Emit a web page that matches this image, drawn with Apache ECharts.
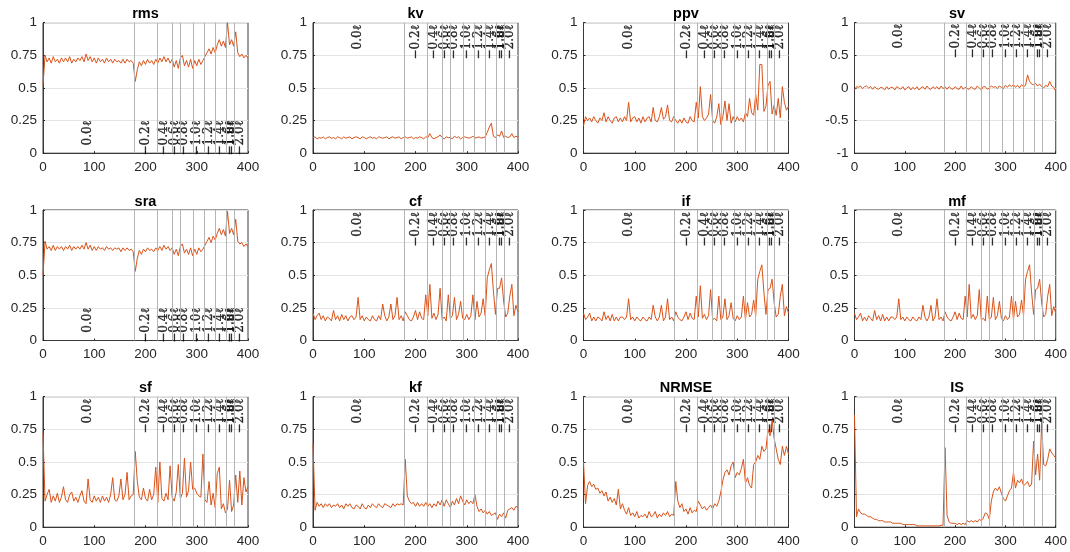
<!DOCTYPE html>
<html>
<head>
<meta charset="utf-8">
<script src="https://cdn.jsdelivr.net/npm/echarts@6/dist/echarts.min.js"></script>
<style>
  html, body { margin: 0; padding: 0; background: #fff; }
  #chart { width: 1070px; height: 552px; }
</style>
</head>
<body>
<div id="chart"></div>
<script>
// sample spacing along the x axis (one value every 4 units, 0..400)
const xStep = 4

const rms = [0.52,0.75,0.70,0.73,0.69,0.74,0.70,0.72,0.69,0.73,
  0.70,0.73,0.70,0.74,0.69,0.72,0.70,0.73,0.71,0.74,
  0.70,0.76,0.71,0.74,0.70,0.73,0.69,0.73,0.70,0.72,
  0.69,0.73,0.70,0.72,0.69,0.72,0.70,0.71,0.69,0.72,
  0.69,0.72,0.70,0.71,0.69,0.55,0.64,0.70,0.67,0.71,
  0.68,0.72,0.69,0.71,0.68,0.72,0.69,0.73,0.70,0.74,
  0.70,0.73,0.69,0.72,0.66,0.71,0.65,0.73,0.75,0.67,
  0.71,0.66,0.72,0.65,0.71,0.67,0.72,0.68,0.71,0.74,
  0.77,0.80,0.76,0.81,0.77,0.83,0.87,0.82,0.86,0.81,
  1.00,0.83,0.87,0.82,0.93,0.77,0.74,0.76,0.73,0.75,
  0.73]

const kv = [0.12,0.125,0.11,0.12,0.115,0.125,0.11,0.12,0.125,0.115,
  0.12,0.11,0.125,0.12,0.11,0.125,0.115,0.12,0.125,0.11,
  0.12,0.125,0.12,0.11,0.125,0.12,0.11,0.12,0.125,0.115,
  0.12,0.11,0.125,0.12,0.115,0.12,0.125,0.11,0.12,0.125,
  0.115,0.12,0.125,0.11,0.12,0.125,0.115,0.12,0.125,0.11,
  0.12,0.115,0.125,0.12,0.11,0.125,0.12,0.15,0.12,0.11,
  0.12,0.125,0.14,0.12,0.11,0.125,0.12,0.12,0.11,0.13,
  0.12,0.125,0.11,0.12,0.125,0.12,0.115,0.12,0.13,0.115,
  0.12,0.125,0.115,0.12,0.125,0.16,0.20,0.23,0.13,0.12,
  0.14,0.13,0.17,0.12,0.13,0.12,0.125,0.15,0.12,0.13,
  0.125]

const ppv = [0.21,0.28,0.25,0.27,0.24,0.28,0.25,0.23,0.27,0.25,
  0.31,0.24,0.28,0.25,0.23,0.27,0.28,0.24,0.27,0.24,
  0.28,0.25,0.39,0.24,0.27,0.28,0.24,0.27,0.23,0.28,
  0.24,0.27,0.28,0.24,0.35,0.25,0.24,0.28,0.35,0.26,
  0.28,0.37,0.25,0.24,0.28,0.25,0.23,0.26,0.23,0.27,
  0.24,0.23,0.28,0.25,0.24,0.39,0.27,0.51,0.28,0.25,
  0.27,0.30,0.45,0.25,0.23,0.28,0.38,0.22,0.28,0.40,
  0.25,0.38,0.23,0.28,0.24,0.28,0.25,0.27,0.24,0.31,
  0.28,0.42,0.31,0.29,0.45,0.33,0.68,0.68,0.32,0.36,
  0.52,0.55,0.30,0.37,0.29,0.42,0.27,0.51,0.39,0.33,
  0.36]

const sv = [-0.03,0.02,0.01,0.03,-0.01,0.02,0.03,0,0.02,-0.02,
  0.02,-0.01,-0.02,0.01,0,-0.03,0.02,-0.02,0.01,0.01,
  -0.03,0.02,0,-0.02,0.02,-0.03,0,0.02,-0.03,0.01,
  -0.02,0.02,-0.03,0,0.02,-0.02,0.03,-0.01,-0.02,0.02,
  -0.01,0.02,-0.02,0.03,-0.01,0.02,-0.02,0.02,-0.01,-0.02,
  0.02,-0.01,-0.02,0.03,-0.02,0.01,-0.01,-0.02,0.02,-0.01,
  -0.02,0.03,0,-0.03,0.02,0.02,-0.02,0,0.03,0.01,
  0.02,-0.01,0.03,0.01,-0.01,0.04,0.01,0.05,0.02,0.05,
  0.01,0.04,0,0.05,0.02,0.04,0.20,0.10,0.06,0.05,
  0.07,0.03,0.06,0.02,0,0.04,0.02,0.10,0.03,0.01,
  -0.05]

const sra = [0.50,0.76,0.70,0.72,0.69,0.73,0.69,0.72,0.70,0.72,
  0.69,0.72,0.70,0.73,0.69,0.72,0.70,0.72,0.70,0.73,
  0.70,0.75,0.70,0.73,0.69,0.72,0.69,0.72,0.70,0.71,
  0.69,0.72,0.70,0.71,0.69,0.71,0.70,0.71,0.68,0.71,
  0.69,0.71,0.69,0.70,0.68,0.53,0.63,0.69,0.66,0.70,
  0.68,0.71,0.69,0.70,0.68,0.71,0.69,0.72,0.69,0.73,
  0.70,0.72,0.69,0.71,0.66,0.70,0.65,0.72,0.74,0.67,
  0.70,0.66,0.71,0.65,0.70,0.66,0.71,0.68,0.70,0.73,
  0.76,0.79,0.75,0.80,0.77,0.82,0.86,0.81,0.85,0.80,
  0.99,0.82,0.86,0.81,0.93,0.76,0.74,0.75,0.72,0.74,
  0.72]

const cf = [0.21,0.16,0.19,0.21,0.16,0.19,0.15,0.18,0.17,0.15,
  0.23,0.16,0.19,0.15,0.20,0.16,0.19,0.15,0.18,0.19,
  0.16,0.18,0.33,0.16,0.19,0.15,0.18,0.16,0.15,0.19,
  0.16,0.15,0.19,0.16,0.28,0.19,0.15,0.18,0.28,0.16,
  0.19,0.33,0.16,0.19,0.15,0.22,0.19,0.16,0.15,0.18,
  0.23,0.16,0.22,0.17,0.16,0.35,0.19,0.43,0.17,0.21,
  0.16,0.20,0.40,0.16,0.18,0.15,0.35,0.17,0.19,0.33,
  0.16,0.20,0.30,0.17,0.16,0.20,0.16,0.19,0.35,0.16,
  0.30,0.18,0.21,0.32,0.19,0.48,0.54,0.59,0.38,0.20,
  0.40,0.40,0.48,0.30,0.18,0.21,0.34,0.43,0.19,0.27,
  0.22]

const ifac = [0.21,0.16,0.18,0.21,0.15,0.18,0.15,0.18,0.17,0.15,
  0.22,0.16,0.19,0.15,0.20,0.15,0.18,0.15,0.18,0.18,
  0.16,0.18,0.32,0.16,0.18,0.15,0.18,0.16,0.15,0.18,
  0.16,0.15,0.18,0.16,0.27,0.18,0.15,0.18,0.27,0.15,
  0.18,0.32,0.16,0.18,0.15,0.22,0.18,0.16,0.15,0.18,
  0.22,0.16,0.21,0.17,0.16,0.34,0.18,0.42,0.17,0.20,
  0.16,0.19,0.39,0.16,0.17,0.15,0.34,0.16,0.18,0.32,
  0.16,0.19,0.29,0.17,0.15,0.19,0.16,0.18,0.34,0.16,
  0.29,0.18,0.20,0.31,0.19,0.47,0.53,0.58,0.37,0.20,
  0.39,0.40,0.47,0.29,0.18,0.20,0.34,0.43,0.19,0.26,
  0.21]

const mf = [0.21,0.16,0.18,0.21,0.15,0.18,0.15,0.19,0.17,0.15,
  0.23,0.16,0.19,0.15,0.20,0.15,0.18,0.15,0.18,0.18,
  0.16,0.18,0.32,0.16,0.18,0.15,0.18,0.16,0.15,0.18,
  0.16,0.15,0.18,0.16,0.27,0.18,0.15,0.18,0.27,0.15,
  0.18,0.32,0.16,0.18,0.15,0.22,0.18,0.16,0.15,0.18,
  0.22,0.16,0.21,0.17,0.16,0.34,0.18,0.43,0.17,0.20,
  0.16,0.19,0.39,0.16,0.17,0.15,0.34,0.16,0.18,0.33,
  0.16,0.19,0.30,0.17,0.15,0.19,0.16,0.18,0.34,0.16,
  0.30,0.18,0.20,0.31,0.19,0.47,0.53,0.58,0.37,0.20,
  0.39,0.40,0.47,0.29,0.18,0.20,0.34,0.43,0.19,0.26,
  0.21]

const sf = [0.72,0.20,0.25,0.29,0.19,0.24,0.20,0.26,0.19,0.23,
  0.31,0.21,0.19,0.25,0.27,0.20,0.23,0.19,0.24,0.28,
  0.20,0.18,0.37,0.21,0.19,0.24,0.20,0.23,0.19,0.24,
  0.20,0.23,0.19,0.25,0.38,0.21,0.20,0.24,0.37,0.21,
  0.25,0.42,0.21,0.24,0.25,0.58,0.35,0.23,0.21,0.30,
  0.22,0.20,0.29,0.21,0.25,0.46,0.19,0.50,0.22,0.20,
  0.26,0.21,0.47,0.23,0.20,0.27,0.48,0.22,0.26,0.53,
  0.23,0.28,0.50,0.29,0.30,0.26,0.24,0.23,0.56,0.21,
  0.19,0.35,0.17,0.26,0.15,0.41,0.46,0.14,0.18,0.11,
  0.14,0.36,0.12,0.17,0.40,0.19,0.43,0.17,0.38,0.27,
  0.31]

const kf = [0.64,0.13,0.19,0.16,0.18,0.15,0.18,0.16,0.18,0.15,
  0.17,0.16,0.18,0.15,0.17,0.14,0.18,0.16,0.18,0.15,
  0.14,0.17,0.16,0.14,0.18,0.15,0.14,0.17,0.15,0.18,
  0.16,0.15,0.18,0.16,0.15,0.18,0.17,0.16,0.15,0.18,
  0.16,0.18,0.17,0.18,0.17,0.52,0.24,0.20,0.18,0.19,
  0.16,0.19,0.16,0.18,0.16,0.19,0.16,0.18,0.15,0.18,
  0.16,0.20,0.17,0.21,0.16,0.21,0.18,0.15,0.20,0.17,
  0.22,0.18,0.24,0.20,0.17,0.21,0.18,0.20,0.18,0.25,
  0.16,0.12,0.14,0.11,0.13,0.10,0.12,0.09,0.10,0.11,
  0.06,0.10,0.08,0.11,0.07,0.13,0.14,0.15,0.13,0.16,
  0.15]

const nrmse = [0.50,0.18,0.32,0.35,0.31,0.33,0.29,0.30,0.26,0.28,
  0.24,0.27,0.20,0.23,0.19,0.22,0.17,0.29,0.14,0.18,
  0.13,0.10,0.15,0.09,0.11,0.08,0.12,0.07,0.09,0.08,
  0.10,0.07,0.12,0.08,0.09,0.12,0.07,0.10,0.08,0.11,
  0.09,0.12,0.08,0.10,0.09,0.35,0.20,0.15,0.18,0.12,
  0.14,0.10,0.15,0.11,0.13,0.12,0.20,0.17,0.14,0.16,
  0.13,0.15,0.17,0.14,0.18,0.16,0.20,0.27,0.36,0.42,
  0.44,0.40,0.47,0.50,0.38,0.42,0.40,0.45,0.52,0.34,
  0.38,0.32,0.30,0.48,0.50,0.55,0.52,0.62,0.58,0.60,
  0.75,0.70,0.82,0.68,0.60,0.52,0.48,0.62,0.55,0.62,
  0.56]

const is = [0.86,0.08,0.14,0.11,0.10,0.10,0.09,0.08,0.08,0.07,
  0.06,0.06,0.05,0.05,0.05,0.04,0.04,0.04,0.04,0.03,
  0.03,0.03,0.03,0.03,0.02,0.02,0.02,0.02,0.02,0.02,
  0.02,0.01,0.01,0.01,0.01,0.01,0.01,0.01,0.01,0.01,
  0.01,0.01,0.01,0.015,0.015,0.61,0.09,0.04,0.03,0.03,
  0.03,0.02,0.03,0.02,0.03,0.02,0.05,0.04,0.05,0.04,
  0.05,0.04,0.06,0.05,0.07,0.11,0.10,0.06,0.20,0.27,
  0.30,0.28,0.31,0.26,0.22,0.20,0.24,0.28,0.30,0.42,
  0.30,0.36,0.34,0.37,0.32,0.33,0.35,0.31,0.33,0.66,
  0.40,0.56,0.36,0.80,0.48,0.47,0.52,0.60,0.57,0.55,
  0.53]

// segment boundaries (vertical grey lines) and their labels
const boundaries = [178, 222, 252, 268, 294, 315, 336, 358, 373]
const segLabelX = [88, 201, 236, 257, 275, 301, 323, 345, 364, 368, 384]
const segLabels = ['0.0ℓ', '−0.2ℓ', '−0.4ℓ', '−0.6ℓ', '−0.8ℓ', '−1.0ℓ', '−1.2ℓ', '−1.4ℓ', '−1.6ℓ', '−1.8ℓ', '−2.0ℓ']

const panels = [
  { title: 'rms', data: rms, labelY: 0.25 },
  { title: 'kv', data: kv },
  { title: 'ppv', data: ppv },
  { title: 'sv', data: sv, ymin: -1, yint: 0.5 },
  { title: 'sra', data: sra, labelY: 0.25 },
  { title: 'cf', data: cf },
  { title: 'if', data: ifac },
  { title: 'mf', data: mf },
  { title: 'sf', data: sf },
  { title: 'kf', data: kf },
  { title: 'NRMSE', data: nrmse },
  { title: 'IS', data: is }
]

const colLeft = [43, 313, 583.5, 854.5]
const rowTop = [22.7, 210, 396.7]
const plotW = 205
const plotH = 130.5

const sans = '"Liberation Sans", Arial, Helvetica, sans-serif'
const serif = '"DejaVu Serif", "Liberation Serif", serif'
const axisColor = '#262626'

const grid = [], xAxis = [], yAxis = [], series = [], title = []

panels.forEach((p, k) => {
  const left = colLeft[k % 4]
  const top = rowTop[Math.floor(k / 4)]
  const ymin = p.ymin !== undefined ? p.ymin : 0
  const yint = p.yint || 0.25

  grid.push({ left: left, top: top, width: plotW, height: plotH, show: true, borderColor: '#3a3a3a', borderWidth: 1 })
  title.push({
    text: p.title, left: left + plotW / 2, top: top - 16, textAlign: 'center', padding: 0,
    textStyle: { fontFamily: sans, fontSize: 14.5, fontWeight: 'bold', color: '#000' }
  })
  xAxis.push({
    gridIndex: k, type: 'value', min: 0, max: 400, interval: 100,
    axisLine: { show: true, onZero: false, lineStyle: { color: '#3a3a3a', width: 1 } },
    axisTick: { show: true, inside: true, length: 2, lineStyle: { color: axisColor } },
    axisLabel: { color: axisColor, fontFamily: sans, fontSize: 13.5, margin: 7, showMinLabel: true, showMaxLabel: true },
    splitLine: { show: false }
  })
  yAxis.push({
    gridIndex: k, type: 'value', min: ymin, max: 1, interval: yint,
    axisLine: { show: true, onZero: false, lineStyle: { color: '#3a3a3a', width: 1 } },
    axisTick: { show: true, inside: true, length: 2, lineStyle: { color: axisColor } },
    axisLabel: { color: axisColor, fontFamily: sans, fontSize: 13.5, margin: 6, showMinLabel: true, showMaxLabel: true },
    splitLine: { show: true, lineStyle: { color: '#e4e4e4', width: 1 } }
  })

  const ly = p.labelY !== undefined ? p.labelY : 0.985
  series.push({
    type: 'scatter', xAxisIndex: k, yAxisIndex: k, silent: true, z: 1,
    symbolSize: 1, itemStyle: { color: 'rgba(0,0,0,0)' },
    data: segLabelX.map(x => [x, ly]),
    label: {
      show: true, position: 'inside', rotate: 90, align: 'right', verticalAlign: 'middle',
      formatter: prm => segLabels[prm.dataIndex],
      fontFamily: serif, fontSize: 12, color: '#000',
      textBorderColor: '#000', textBorderWidth: 0.35
    },
    markLine: {
      silent: true, symbol: ['none', 'none'], animation: false,
      label: { show: false },
      lineStyle: { color: '#b4b4b4', width: 1, type: 'solid' },
      data: boundaries.map(b => ({ xAxis: b }))
    }
  })
  series.push({
    type: 'line', xAxisIndex: k, yAxisIndex: k, silent: true, z: 3,
    symbol: 'none', showSymbol: false,
    lineStyle: { color: '#D95319', width: 1 },
    data: p.data.map((v, i) => [i * xStep, v])
  })
})

const chart = echarts.init(document.getElementById('chart'))
chart.setOption({
  animation: false,
  backgroundColor: '#fff',
  title: title,
  grid: grid,
  xAxis: xAxis,
  yAxis: yAxis,
  series: series
})
</script>
</body>
</html>
